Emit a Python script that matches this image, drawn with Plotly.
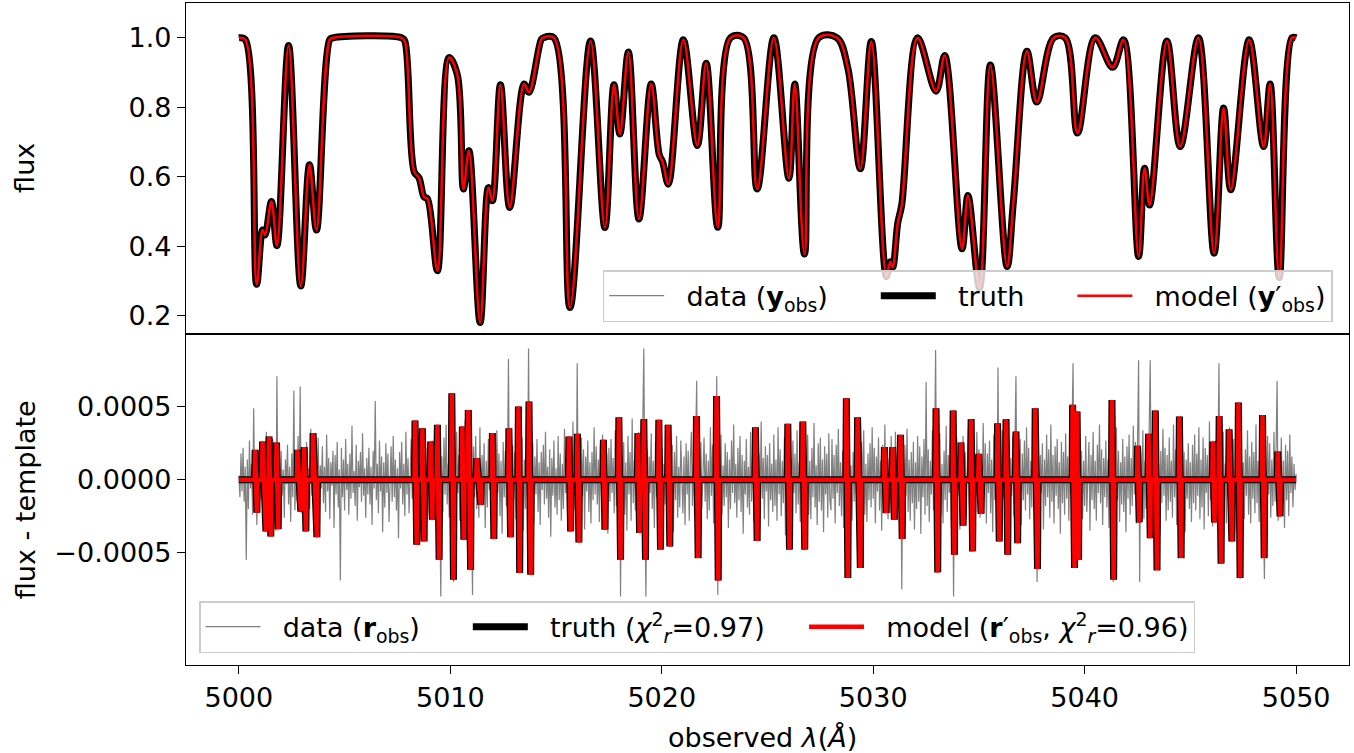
import numpy as np
import plotly.graph_objects as go
from plotly.subplots import make_subplots

# ---------------- top panel: normalized flux (turning points) ----------------
flux_wave = [5000.00, 5000.30, 5000.84, 5001.12, 5001.24, 5001.54, 5001.80, 5002.35, 5002.93, 5003.34,
             5003.67, 5004.30, 5004.45, 5007.70, 5007.85, 5008.29, 5008.52, 5008.76, 5008.92, 5009.39,
             5009.94, 5010.33, 5010.62, 5010.88, 5011.41, 5011.80, 5011.99, 5012.37, 5012.81, 5013.49,
             5013.72, 5014.30, 5014.40, 5014.90, 5015.66, 5016.63, 5017.31, 5017.74, 5018.02, 5018.42,
             5018.92, 5019.50, 5019.88, 5020.04, 5020.31, 5021.02, 5021.68, 5022.10, 5022.65, 5023.25,
             5023.87, 5024.51, 5025.30, 5026.01, 5026.29, 5026.75, 5027.42, 5028.29, 5028.80, 5029.39,
             5029.91, 5030.62, 5030.81, 5030.92, 5031.16, 5031.35, 5032.10, 5032.97, 5033.38, 5034.20,
             5034.48, 5035.03, 5035.54, 5036.33, 5036.63, 5037.27, 5037.74, 5038.53, 5039.08, 5039.66,
             5040.50, 5041.32, 5041.84, 5042.55, 5042.83, 5043.07, 5043.89, 5044.52, 5045.38, 5046.12,
             5046.57, 5046.91, 5047.78, 5048.46, 5048.77, 5049.20, 5049.80, 5050.00]
flux_vals = [1.000, 0.995, 0.291, 0.447, 0.433, 0.529, 0.402, 0.978, 0.286, 0.635,
             0.447, 0.995, 1.000, 1.000, 0.990, 0.615, 0.597, 0.542, 0.537, 0.330,
             0.943, 0.894, 0.565, 0.675, 0.181, 0.569, 0.531, 0.865, 0.512, 0.867,
             0.843, 0.995, 1.000, 1.000, 0.224, 0.991, 0.454, 0.865, 0.723, 0.959,
             0.479, 0.867, 0.664, 0.643, 0.579, 0.994, 0.690, 0.927, 0.455, 1.000,
             1.000, 0.565, 1.000, 0.596, 0.867, 0.378, 1.000, 1.000, 0.913, 0.623,
             0.989, 0.313, 0.356, 0.340, 0.467, 0.520, 1.000, 0.846, 0.949, 0.393,
             0.546, 0.280, 0.922, 0.342, 0.529, 0.961, 0.815, 1.000, 1.000, 0.726,
             1.000, 0.915, 0.994, 0.371, 0.625, 0.519, 0.991, 0.687, 1.000, 0.380,
             0.798, 0.563, 0.994, 0.687, 0.867, 0.310, 1.000, 1.000]

# ---------------- bottom panel: residual spikes (units of 1e-5) ----------------
spike_up_wave = [5000.77, 5001.12, 5001.43, 5001.78, 5002.77, 5003.09, 5003.51, 5008.33, 5008.68, 5009.07,
                 5009.39, 5010.07, 5010.57, 5010.85, 5011.25, 5011.99, 5012.77, 5013.22, 5013.72, 5015.61,
                 5016.01, 5017.24, 5017.97, 5018.87, 5019.15, 5019.86, 5020.30, 5021.64, 5022.59, 5024.43,
                 5025.96, 5026.67, 5028.73, 5029.26, 5030.53, 5030.92, 5031.29, 5032.97, 5033.78, 5034.15,
                 5034.63, 5034.99, 5035.88, 5036.28, 5036.75, 5037.66, 5039.43, 5039.64, 5041.29, 5042.50,
                 5043.02, 5043.34, 5044.48, 5046.06, 5046.36, 5046.83, 5047.27, 5048.41, 5049.13]
spike_up_val = [20.5, 26.2, 29.7, 25.6, 20.5, 22.4, 32.0, 40.6, 35.4, 26.2,
                37.7, 59.4, 36.5, 47.9, 14.8, 32.0, 35.4, 50.2, 53.7, 29.7,
                31.5, 27.4, 42.9, 32.0, 41.6, 41.1, 37.7, 43.8, 57.5, 36.1,
                38.4, 40.0, 56.0, 42.9, 22.4, 22.4, 30.8, 49.1, 47.5, 25.6,
                41.6, 17.8, 38.8, 41.6, 33.1, 49.1, 51.4, 46.8, 54.8, 23.3,
                31.5, 47.5, 43.4, 26.2, 43.8, 34.7, 53.0, 44.5, 19.4]
spike_dn_wave = [5000.85, 5001.28, 5001.51, 5001.86, 5002.93, 5003.17, 5003.69, 5008.41, 5008.76, 5009.15,
                 5009.47, 5010.15, 5010.64, 5010.96, 5011.44, 5012.06, 5012.85, 5013.28, 5013.80, 5015.69,
                 5016.08, 5017.31, 5018.05, 5018.95, 5019.23, 5019.94, 5020.38, 5021.72, 5022.67, 5024.51,
                 5026.04, 5026.76, 5028.80, 5029.39, 5030.61, 5031.00, 5031.37, 5033.05, 5033.84, 5034.25,
                 5034.70, 5035.10, 5035.96, 5036.36, 5036.83, 5037.77, 5039.52, 5039.71, 5041.37, 5042.58,
                 5043.10, 5043.42, 5044.56, 5046.14, 5046.45, 5046.96, 5047.35, 5048.49, 5049.24]
spike_dn_val = [-22.6, -35.4, -38.8, -33.8, -21.7, -35.4, -39.3, -44.5, -42.2, -27.4,
                -54.8, -68.5, -41.1, -61.6, -17.1, -40.6, -39.3, -63.9, -65.1, -35.4,
                -42.9, -34.2, -54.8, -36.5, -54.8, -47.9, -45.7, -53.7, -69.0, -42.0,
                -47.9, -47.9, -67.4, -60.5, -22.8, -27.4, -40.6, -63.5, -51.4, -31.5,
                -49.1, -23.3, -42.2, -51.4, -43.4, -61.2, -60.5, -54.8, -68.5, -29.2,
                -40.0, -62.1, -53.7, -29.2, -57.5, -42.2, -67.4, -53.7, -25.1]

# observed residual samples, one every 0.05 A from 5000 A (units of 1e-5)
resid_start = 5000.0
resid_step = 0.05
resid_data = [
    3, -12, 18, -8, 22, -15, 9, -55, 14, -20, 27, -6, 11, -24, 49, -10, 16, -31, 8, 19,
    -14, 25, -9, 13, -27, 6, 33, -18, 10, -22, 17, -5, 28, -16, 12, -35, 71, -19, 15, -8,
    20, -11, 7, -26, 14, -3, 24, -17, 9, -29, 18, -12, 61, -21, 6, -15, 30, -9, 64, -23,
    12, -30, 19, -7, 26, -14, 8, -20, 35, -11, 16, -25, 4, 21, -13, 29, -18, 10, -6, 23,
    -16, 9, -22, 31, -8, 15, -27, 12, -4, 20, -33, 17, -10, 26, -19, 7, -69, 22, -12, 14,
    -21, 28, -7, 11, -24, 18, -13, 37, -9, 6, -18, 24, -28, 13, -5, 19, -15, 32, -11, 8,
    -26, 15, -10, 22, -17, 9, -31, 20, -6, 54, -14, 11, -23, 27, -8, 16, -36, 12, -19, 25,
    -9, 18, -29, 7, 23, -15, 30, -12, 14, -21, 8, -40, 19, -6, 26, -17, 11, -25, 33, -10,
    15, -23, 6, 28, -13, 19, -34, 10, -18, 24, -7, 31, -20, 12, -27, 17, -11, 22, -16, 9,
    -24, 13, -8, 27, -19, 35, -12, 18, -30, 21, -14, -80, 16, -22, 29, -10, 38, -17, 11, -26,
    20, -13, 26, -70, 14, -21, 33, -9, 17, -28, 12, -35, 24, -16, 41, -11, 19, -30, 8, 22,
    -18, -79, 23, -12, 30, -20, 9, -26, 36, -14, 17, -8, 25, -33, 13, -19, 28, -7, 16, -24,
    11, -29, 21, -15, 34, -9, 18, -25, 13, -37, 26, -12, 20, -18, 7, 83, -22, 15, -31, 24,
    -13, 19, -27, 10, 31, -16, 22, -11, 29, -35, 14, -20, 38, -9, 90, -23, 17, -14, 25, -30,
    16, -10, 28, -22, 12, -31, 19, -7, 24, -17, 33, -13, 9, -26, 21, -39, 15, -11, 27, -19,
    8, -24, 30, -14, 18, -28, 11, -20, 35, -9, 22, -32, 14, -16, 26, -12, 40, -21, 10, -27,
    80, -18, 13, -25, 29, -11, 21, -34, 16, -8, 27, -22, 12, -30, 19, -14, 36, -10, 23, -17,
    14, -29, 25, -12, 31, -20, 9, -26, 18, -37, 22, -15, 28, -9, 15, -23, 34, -18, 11, -31,
    20, -80, 17, -13, 26, -24, 12, -35, 30, -10, 19, -28, 42, -16, 13, -21, 27, -11, 33, -25,
    10, -19, 24, 90, -14, -80, 21, -27, 16, -9, 32, -20, 13, -33, 26, -12, 18, -24, 37, -15,
    22, -30, 11, -17, 28, -13, 35, -22, 15, -8, 24, -36, 19, -14, 30, -26, 9, -19, 27, -11,
    -23, 16, -31, 25, -10, 20, -28, 14, 33, -18, 12, -25, 21, 68, -34, 17, -12, 26, -20, 9,
    29, -15, 18, -27, 13, -21, 36, -11, 24, -30, 16, -19, 71, -79, 22, -13, 31, -24, 10, -18,
    25, -12, 19, -33, 14, -20, 27, -9, 38, -16, 11, -26, 22, -14, 30, -22, 17, -37, 13, -10,
    28, -19, 9, -24, 33, -15, 20, -29, 12, -11, 26, -35, 18, -21, 40, -13, 15, -27, 23, -8,
    17, -32, 25, -14, 11, -22, 31, -18, 14, -28, 36, -10, 21, -25, 13, -16, 29, -38, 19, -12,
    24, -20, 15, -30, 27, -9, 18, -23, 34, -17, 12, -29, 26, -13, 20, -35, 16, -11, 31, -24,
    13, -27, 22, -12, 39, -19, 10, -31, 25, -15, 29, -21, 14, -36, 23, -10, 18, -26, 32, -14,
    -21, 28, -13, 17, -30, 24, -9, 35, -18, 12, -25, 20, -33, 15, -11, 27, -22, 41, -16, 10,
    -28, 19, -15, 31, -10, 23, -37, 14, -20, 26, -12, 34, -24, 11, -29, 18, -14, 25, -19, 36,
    -13, 22, -30, 16, -8, 29, -21, 13, -35, 24, -17, 38, -12, 20, -27, 15, -23, 30, -10, 18,
    -26, 33, -14, 21, -19, 12, 27, -75, 17, -31, 24, -11, 35, -22, 14, -28, 19, -16, 26, -34,
    12, -20, 30, -15, 23, -37, 16, -12, 28, -24, 67, -18, 21, -29, 13, -10, 34, -21, 15, 89,
    -19, 26, -13, 32, -25, 11, -30, 20, -14, 37, -22, 17, -9, 27, -33, 14, -80, 22, -17, 29,
    -11, 24, -34, 15, -20, 30, -13, 19, -27, 12, 36, -18, 23, -10, 28, -31, 16, -22, 33, -15,
    21, -26, 13, -17, 39, -12, 25, -30, 18, -9, 27, -23, 14, -36, 31, -14, 20, -19, 77, -28,
    16, -22, 34, -13, 12, -29, 26, -18, 20, -32, 15, -11, 30, -25, 19, 71, -24, 23, -15, 28,
    -31, 18, -14, 27, -21, 36, -10, 22, -27, 13, -19, 33, -16, 24, -12, -70, 29, -23, 17, -9,
    25, -34, 14, -18, 31, -12, 21, -26, 38, -15, 17, -30, 23, -11, 28, -20, 12, -37, 26, -16,
    19, -24, 32, -13, 16, -28, 22, -10, 35, 80, -21, 14, -33, 25, -17, 29, -12, 20, -27, 13,
    -18, 30, -22, 11, 26, -35, 17, -14, 33, -20, 13, -28, 24, -9, 38, -16, 21, -31, 15, -12,
    27, -19, 14, -33, 22, -11, 30, -70, 18, -25, 36, -14, 20, -29, 12, -17, 28, -22, 16, -36,
    23, -13, 31, -24, 15, -18, 37, -10, 26, -30, 19, 82, -70, 21, -15, 34, -27, 13, -20, 25,
    -12, 28, 82, -19, 24, -33, 16, -14, 30, -23, 11, -38, 20, -16, 35, -11, 22, -28, 17, -21,
    29, -15, 13, -26, 38, -12, 21, -31, 15, -18, 27, -10, 33, -24, 19, -36, 14, -13, 25, -20,
    12, -29, 24, -16, 31, -21, 18, -11, 36, -27, 14, -19, 29, -34, 22, -9, 17, -25, 40, -14,
    20, -32, 15, -12, 27, -22, 13, 80, -26, 19, -15, 33, -20, 11, -30, 25, -13, 36, -18, 22,
    -10, 28, -35, 17, -21, 24, -14, -68, 31, -17, 12, -27, 21, -11, 34, -24, 16, -30, 26, -13,
    19, -23, 38, -16, 13, -29, 27, -12, 22, -34, -68, 15, -20, 30, -10, 25, -26, 14, -18, 33,
    -15, 21, 68, -28, 17, -11, 29, -22, 13, -33, 24, -14, 20, -25, 31, -9, 16, -19, 11, -7,
    4]

x_ticks = [5000, 5010, 5020, 5030, 5040, 5050]
flux_ticks = [0.2, 0.4, 0.6, 0.8, 1.0]
flux_tick_text = ["0.2", "0.4", "0.6", "0.8", "1.0"]
resid_ticks = [-0.0005, 0.0, 0.0005]
resid_tick_text = ["\u22120.0005", "0.0000", "0.0005"]

# ---------------- build traces ----------------
SCALE = 1e-5
SPIKE_FOOT = 0.025  # half-width of the spike foot (style)
rx, ry = [5000.0], [0.0]
for wu, vu, wd, vd in zip(spike_up_wave, spike_up_val, spike_dn_wave, spike_dn_val):
    rx += [wu - SPIKE_FOOT, wu, wd, wd + SPIKE_FOOT]
    ry += [0.0, vu * SCALE, vd * SCALE, 0.0]
rx.append(5050.0)
ry.append(0.0)

dx = resid_start + resid_step * np.arange(len(resid_data))
dy = np.array(resid_data, dtype=float) * SCALE

FONT = "DejaVu Sans"
FS = 27
NB = "\u00a0"


def label(text, after):
    return NB * 2 + text + NB * after


fig = make_subplots(rows=2, cols=1, shared_xaxes=True, vertical_spacing=0)

fig.add_trace(go.Scatter(x=flux_wave, y=flux_vals, mode="lines", line=dict(color="#808080", width=1.2, shape="spline"),
                         name=label("data (<b>y</b><sub>obs</sub>)", 5), legend="legend"), row=1, col=1)
fig.add_trace(go.Scatter(x=flux_wave, y=flux_vals, mode="lines", line=dict(color="black", width=7, shape="spline"),
                         name=label("truth", 5), legend="legend"), row=1, col=1)
fig.add_trace(go.Scatter(x=flux_wave, y=flux_vals, mode="lines", line=dict(color="red", width=2.5, shape="spline"),
                         name=label("model (<b>y</b>\u2032<sub>obs</sub>)", 0), legend="legend"), row=1, col=1)

fig.add_trace(go.Scatter(x=dx, y=dy, mode="lines", line=dict(color="#808080", width=1.2),
                         name=label("data (<b>r</b><sub>obs</sub>)", 5), legend="legend2"), row=2, col=1)
fig.add_trace(go.Scatter(x=rx, y=ry, mode="lines", line=dict(color="black", width=7),
                         name=label("truth (<i>\u03c7</i><sup>2</sup><sub><i>r</i></sub>=0.97)", 4), legend="legend2"),
              row=2, col=1)
fig.add_trace(go.Scatter(x=rx, y=ry, mode="lines", line=dict(color="red", width=4.5),
                         name=label("model (<b>r</b>\u2032<sub>obs</sub>, <i>\u03c7</i><sup>2</sup><sub><i>r</i></sub>=0.96)", 0),
                         legend="legend2"), row=2, col=1)

axis_common = dict(showline=True, linecolor="black", linewidth=1.3, mirror=True, showgrid=False, zeroline=False,
                   tickfont=dict(family=FONT, size=FS, color="black"), tickcolor="black", tickwidth=1.3, ticklen=8)

fig.update_xaxes(range=[4997.5, 5052.5], **axis_common)
fig.update_xaxes(showticklabels=False, ticks="", row=1, col=1)
fig.update_xaxes(ticks="outside", tickvals=x_ticks, row=2, col=1)
fig.update_yaxes(**axis_common)
fig.update_yaxes(range=[0.148, 1.10], ticks="outside", tickvals=flux_ticks, ticktext=flux_tick_text, row=1, col=1)
fig.update_yaxes(range=[-0.00127, 0.001], ticks="outside", tickvals=resid_ticks, ticktext=resid_tick_text, row=2, col=1)

legend_common = dict(orientation="h", bgcolor="rgba(255,255,255,0.8)", bordercolor="#cccccc", borderwidth=1.5,
                     itemwidth=55, font=dict(family=FONT, size=FS, color="black"))
fig.update_layout(
    width=1354, height=753,
    margin=dict(l=186, r=5, t=3, b=88),
    plot_bgcolor="white", paper_bgcolor="white",
    font=dict(family=FONT, size=FS, color="black"),
    legend=dict(x=0.986, xanchor="right", y=0.518, yanchor="bottom", **legend_common),
    legend2=dict(x=0.0112, xanchor="left", y=0.018, yanchor="bottom", **legend_common),
    annotations=[
        dict(text="flux", x=-0.1384, y=0.751, xref="paper", yref="paper", textangle=-90, showarrow=False,
             xanchor="center", yanchor="middle", font=dict(family=FONT, size=FS)),
        dict(text="flux - template", x=-0.1384, y=0.249, xref="paper", yref="paper", textangle=-90,
             showarrow=False, xanchor="center", yanchor="middle", font=dict(family=FONT, size=FS)),
        dict(text="observed <i>\u03bb</i>(<i>\u00c5</i>)", x=0.496, y=-0.1088, xref="paper", yref="paper",
             showarrow=False, xanchor="center", yanchor="middle", font=dict(family=FONT, size=FS)),
    ],
)

fig.write_html("out.html")
